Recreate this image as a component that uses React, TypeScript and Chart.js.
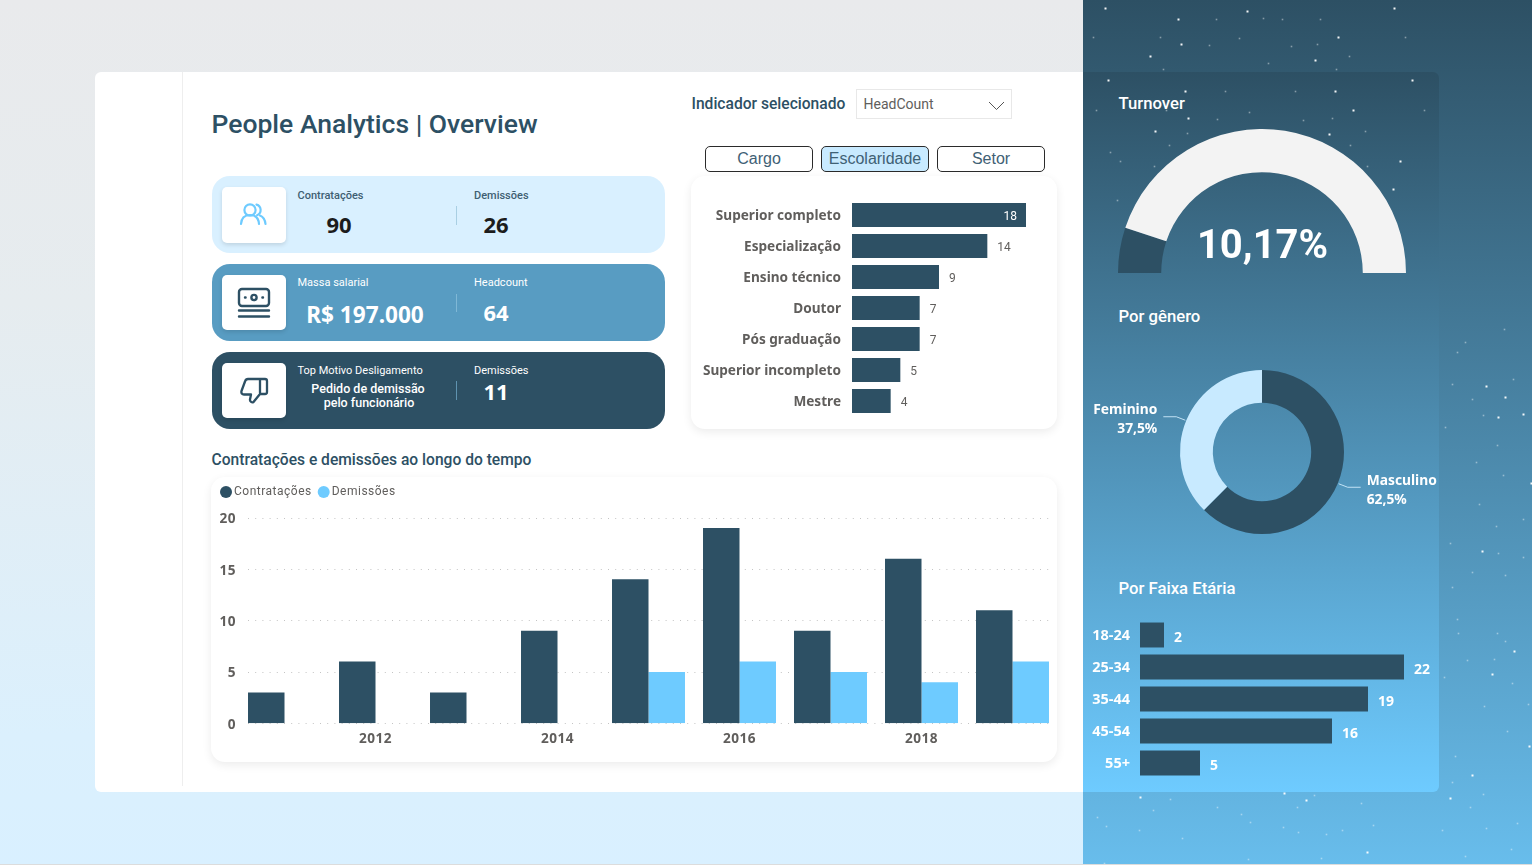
import React, { useEffect, useRef } from "react";
import { Chart, registerables } from "chart.js";

Chart.register(...registerables);

// ---------- data ----------
const eduLabels = ["Superior completo", "Especialização", "Ensino técnico", "Doutor", "Pós graduação", "Superior incompleto", "Mestre"];
const eduValues = [18, 14, 9, 7, 7, 5, 4];
const years = ["2011", "2012", "2013", "2014", "2015", "2016", "2017", "2018", "2019"];
const hires = [3, 6, 3, 9, 14, 19, 9, 16, 11];
const fires = [0, 0, 0, 0, 5, 6, 5, 4, 6];
const genderLabels = ["Masculino", "Feminino"];
const genderValues = [62.5, 37.5];
const genderText = ["62,5%", "37,5%"];
const turnoverValues = [10.17, 89.83];
const ageLabels = ["18-24", "25-34", "35-44", "45-54", "55+"];
const ageValues = [2, 22, 19, 16, 5];

const DARK = "#2d5064";
const LIGHT = "#6ecbff";
const GREY = "#605e5c";
const LABEL_FONT = '"Noto Sans"';

// decorative background stars: x, y, bright
const stars: number[][] = [
  [1105,8,1],[1178,19,1],[1247,11,1],[1394,8,1],[1338,37,1],[1181,44,1],[1150,56,1],[1315,60,1],[1108,80,1],[1185,91,1],[1093,37,0],[1160,37,0],[1209,45,0],[1239,38,0],[1291,46,0],[1317,44,0],[1263,18,0],[1216,19,0],[1282,19,0],[1320,19,0],[1405,37,0],[1349,56,0],[1268,63,0],[1163,69,0],[1336,69,0],
  [1412,80,1],[1225,91,0],[1295,91,0],[1335,91,1],[1096,110,0],[1166,110,0],[1188,118,1],[1249,112,0],[1217,119,0],[1353,110,1],[1424,110,0],[1303,120,0],[1332,118,0],[1155,131,1],[1187,133,0],[1365,131,0],[1169,145,0],[1110,152,0],[1120,161,0],[1154,166,0],[1400,161,1],[1367,166,0],[1393,189,1],[1117,200,0],[1329,134,1],[1350,145,0],
  [1504,329,0],[1457,352,0],[1465,342,0],[1452,384,0],[1486,386,1],[1513,379,0],[1472,399,0],[1505,397,1],[1483,415,0],[1498,417,1],[1523,414,1],[1445,427,0],[1497,445,0],[1476,462,0],[1503,475,0],[1531,483,1],[1479,504,0],[1496,526,0],[1523,519,0],[1450,543,0],[1482,551,1],[1498,553,0],[1523,557,0],[1505,575,0],[1472,572,0],[1452,587,0],[1457,619,0],[1458,633,0],[1497,633,0],[1505,641,0],[1514,651,1],[1494,659,0],[1467,660,0],[1492,674,1],[1444,677,0],[1512,683,0],[1484,706,0],[1528,704,0],[1507,731,0],[1529,746,1],[1455,756,0],[1472,775,1],[1452,782,0],[1450,798,1],[1483,794,0],[1470,807,0],[1442,830,0],[1517,823,0],[1486,828,0],[1511,849,0],[1465,856,0],
  [1140,797,1],[1170,799,0],[1153,810,0],[1217,807,0],[1284,793,1],[1306,800,1],[1314,795,0],[1297,807,0],[1361,803,0],[1241,814,0],[1250,822,0],[1283,827,0],[1298,832,0],[1326,834,0],[1342,830,0],[1373,825,0],[1097,817,0],[1106,826,0],[1139,830,0],[1182,838,0],[1367,852,1],[1321,858,0],[1248,859,0],[1104,863,0],
];

// ---------- chart configs ----------
const noScalePadding = (s: any) => { s.paddingTop = 0; s.paddingBottom = 0; };

// nudges the y-axis tick text down so the digits sit optically centred on their row
const tickNudge = (dy: number) => ({
  id: "tickNudge",
  beforeDraw(chart: any) {
    const items = chart.scales.y.getLabelItems();
    if (items.__nudged) return;
    items.forEach((it: any) => { it.options.translation[1] += dy; });
    items.__nudged = true;
  },
});

const valueLabels = (font: string, color: string, gap: number, dy: number, insideFrom?: number) => ({
  id: "valueLabels",
  afterDatasetsDraw(chart: any) {
    const { ctx } = chart;
    const vals = chart.data.datasets[0].data;
    ctx.save();
    ctx.font = font;
    ctx.textBaseline = "middle";
    chart.getDatasetMeta(0).data.forEach((bar: any, i: number) => {
      const inside = insideFrom !== undefined && vals[i] >= insideFrom;
      ctx.fillStyle = inside ? "#ffffff" : color;
      ctx.textAlign = inside ? "right" : "left";
      ctx.fillText(String(vals[i]), inside ? bar.x - 9 : bar.x + gap, bar.y + dy);
    });
    ctx.restore();
  },
});

const eduConfig: any = {
  type: "bar",
  data: { labels: eduLabels, datasets: [{ data: eduValues, backgroundColor: DARK, categoryPercentage: 0.775, barPercentage: 1 }] },
  options: {
    indexAxis: "y", animation: false, responsive: false,
    layout: { autoPadding: false, padding: { top: 21.5, bottom: 11.5, right: 31, left: 0 } },
    plugins: { legend: { display: false }, tooltip: { enabled: false } },
    scales: {
      x: { display: false, min: 0, max: 18 },
      y: {
        afterFit: (s: any) => { s.width = 161; noScalePadding(s); },
        grid: { display: false, drawTicks: false }, border: { display: false },
        ticks: { color: GREY, padding: 11, font: { family: LABEL_FONT, weight: "700", size: 13.6 } },
      },
    },
  },
  plugins: [valueLabels("12px Roboto", GREY, 10, 2, 18), tickNudge(1)],
};

const timeGrid = {
  id: "timeGrid",
  beforeDatasetsDraw(chart: any) {
    const { ctx, chartArea, scales } = chart;
    ctx.save();
    ctx.strokeStyle = "#c4c4c4";
    ctx.lineWidth = 1;
    ctx.setLineDash([1, 6.2]);
    scales.y.ticks.forEach((t: any) => {
      const y = Math.round(scales.y.getPixelForValue(t.value)) + 0.5;
      ctx.beginPath();
      ctx.moveTo(chartArea.left + 9, y);
      ctx.lineTo(chartArea.right - 9, y);
      ctx.stroke();
    });
    ctx.restore();
  },
};
const legendSpace = {
  id: "legendSpace",
  beforeInit(chart: any) {
    const fit = chart.legend.fit;
    chart.legend.fit = function () { fit.call(this); this.height += 9.6; };
  },
  beforeLayout(chart: any) { chart.ctx.letterSpacing = "0.5px"; },
  beforeDraw(chart: any) { chart.ctx.letterSpacing = "0.5px"; },
  afterDraw(chart: any) { chart.ctx.letterSpacing = "0px"; },
};
const timeConfig: any = {
  type: "bar",
  data: {
    labels: years,
    datasets: [
      { label: "Contratações", data: hires, backgroundColor: DARK, categoryPercentage: 0.802, barPercentage: 1 },
      { label: "Demissões", data: fires, backgroundColor: LIGHT, categoryPercentage: 0.802, barPercentage: 1 },
    ],
  },
  options: {
    animation: false, responsive: false,
    layout: { autoPadding: false, padding: { left: 3, top: 6, right: 0, bottom: 0 } },
    plugins: {
      tooltip: { enabled: false },
      legend: {
        position: "top", align: "start",
        labels: { usePointStyle: true, pointStyle: "circle", boxWidth: 4, boxHeight: 8.5, padding: 10, color: GREY, font: { family: "Roboto", size: 12 } },
      },
    },
    scales: {
      x: {
        afterFit: (s: any) => { s.height = 26.7; },
        grid: { display: false, drawTicks: false }, border: { display: false },
        ticks: {
          autoSkip: false, maxRotation: 0, padding: 8, color: GREY,
          font: { family: LABEL_FONT, weight: "700", size: 13.6 },
          callback(this: any, v: any, i: number) { return i % 2 === 1 ? this.getLabelForValue(v) : ""; },
        },
      },
      y: {
        min: 0, max: 20,
        afterFit: (s: any) => { s.width = 25; noScalePadding(s); },
        grid: { display: false, drawTicks: false }, border: { display: false },
        ticks: { stepSize: 5, padding: 3, color: GREY, font: { family: LABEL_FONT, weight: "700", size: 13.6 } },
      },
    },
  },
  plugins: [timeGrid, legendSpace, tickNudge(1.7)],
};

const gaugeConfig: any = {
  type: "doughnut",
  data: { labels: ["Turnover", "Restante"], datasets: [{ data: turnoverValues, backgroundColor: [DARK, "#f3f3f3"], borderWidth: 0 }] },
  options: {
    animation: false, responsive: false, rotation: -90, circumference: 180, cutout: "70%",
    layout: { autoPadding: false, padding: 0 },
    plugins: { legend: { display: false }, tooltip: { enabled: false } },
  },
};

const genderLeaders = {
  id: "genderLeaders",
  afterDatasetsDraw(chart: any) {
    const { ctx } = chart;
    chart.getDatasetMeta(0).data.forEach((arc: any, i: number) => {
      const mid = (arc.startAngle + arc.endAngle) / 2;
      const px = arc.x + Math.cos(mid) * (arc.outerRadius + 1);
      const py = arc.y + Math.sin(mid) * (arc.outerRadius + 1);
      const right = Math.cos(mid) > 0;
      const s = right ? 1 : -1;
      ctx.save();
      ctx.strokeStyle = "rgba(214,240,255,0.85)";
      ctx.lineWidth = 1;
      ctx.beginPath();
      ctx.moveTo(px, py);
      ctx.lineTo(px + s * 9, py + (right ? 3.5 : -3.5));
      ctx.lineTo(px + s * 22, py + (right ? 3.5 : -3.5));
      ctx.stroke();
      ctx.fillStyle = "#ffffff";
      ctx.font = `700 13.8px ${LABEL_FONT}`;
      ctx.textBaseline = "middle";
      ctx.textAlign = right ? "left" : "right";
      const tx = px + s * 28;
      const base = right ? py - 3 : py - 10;
      ctx.fillText(chart.data.labels[i], tx, base);
      ctx.fillText(genderText[i], tx, base + 19);
      ctx.restore();
    });
  },
};
const genderConfig: any = {
  type: "doughnut",
  data: { labels: genderLabels, datasets: [{ data: genderValues, backgroundColor: [DARK, "#c8eaff"], borderWidth: 0 }] },
  options: {
    animation: false, responsive: false, cutout: "60%",
    layout: { autoPadding: false, padding: { top: 5, bottom: 5, left: 88, right: 88 } },
    plugins: { legend: { display: false }, tooltip: { enabled: false } },
  },
  plugins: [genderLeaders],
};

const ageConfig: any = {
  type: "bar",
  data: { labels: ageLabels, datasets: [{ data: ageValues, backgroundColor: DARK, categoryPercentage: 0.78, barPercentage: 1 }] },
  options: {
    indexAxis: "y", animation: false, responsive: false,
    layout: { autoPadding: false, padding: { top: 9, bottom: 11, right: 35, left: 0 } },
    plugins: { legend: { display: false }, tooltip: { enabled: false } },
    scales: {
      x: { display: false, min: 0, max: 22 },
      y: {
        afterFit: (s: any) => { s.width = 55; noScalePadding(s); },
        grid: { display: false, drawTicks: false }, border: { display: false },
        ticks: { color: "#ffffff", padding: 10, font: { family: LABEL_FONT, weight: "700", size: 14.5 } },
      },
    },
  },
  plugins: [valueLabels(`700 14px ${LABEL_FONT}`, "#ffffff", 10, 3), tickNudge(1.3)],
};

// ---------- helpers ----------
function ChartBox({ x, y, w, h, config }: { x: number; y: number; w: number; h: number; config: any }) {
  const ref = useRef<HTMLCanvasElement>(null);
  useEffect(() => {
    const chart = new Chart(ref.current as HTMLCanvasElement, config);
    return () => chart.destroy();
  }, [config]);
  return <canvas ref={ref} width={w} height={h} style={{ position: "absolute", left: x, top: y, width: w, height: h, display: "block" }} />;
}

function T({ x, y, children, size, weight = 400, color = DARK, font = "Roboto", align = "left" }: any) {
  const tx = align === "center" ? "-50%" : align === "right" ? "-100%" : "0";
  return (
    <div style={{ position: "absolute", left: x, top: y, transform: `translate(${tx},-50%)`, whiteSpace: "nowrap", fontFamily: font, fontSize: size, fontWeight: weight, color, lineHeight: 1 }}>
      {children}
    </div>
  );
}

function Box({ x, y, w, h, style }: any) {
  return <div style={{ position: "absolute", left: x, top: y, width: w, height: h, boxSizing: "border-box", ...style }} />;
}

function Tile({ y, h, children }: any) {
  return (
    <div style={{ position: "absolute", left: 222, top: y, width: 64, height: h, background: "#fff", borderRadius: 5, boxShadow: "0 2px 4px rgba(0,0,0,0.12)" }}>
      <svg width={64} height={h} viewBox={`0 0 64 ${h}`} fill="none">{children}</svg>
    </div>
  );
}

function Button({ x, w, label, active }: any) {
  return (
    <div style={{ position: "absolute", left: x, top: 146, width: w, height: 26, boxSizing: "border-box", border: "1.5px solid #2b2b2b", borderRadius: 5, background: active ? "#c8eaff" : "#fff", color: "#3f6175", fontFamily: '"Liberation Sans"', fontSize: 16, lineHeight: "23px", textAlign: "center" }}>
      {label}
    </div>
  );
}

const starShadow = stars.map(([x, y, b]) => `${x}px ${y}px 0 ${b ? 0.5 : 0.3}px rgba(255,255,255,${b ? 0.95 : 0.42})`).join(",");

export default function App() {
  return (
    <div style={{ position: "fixed", left: 0, top: 0, width: 1532, height: 865, overflow: "hidden", background: "linear-gradient(180deg,#e9eaec 0%,#e6ecef 35%,#dbf0fd 85%,#d9f0ff 100%)" }}>
      <Box x={95} y={72} w={1000} h={720} style={{ background: "#fff", borderRadius: "6px 0 0 6px" }} />
      <Box x={182} y={72} w={1} h={714} style={{ background: "#eeeeee" }} />

      {/* right panel */}
      <Box x={1083} y={0} w={449} h={865} style={{ background: "linear-gradient(180deg,#2d5064 0%,#68bdec 100%)" }} />
      <Box x={1083} y={72} w={356} h={720} style={{ background: "linear-gradient(180deg,#2d5064 0%,#6ecbff 100%)", borderRadius: "0 6px 6px 0" }} />
      <div style={{ position: "absolute", left: 0, top: 0, width: 1, height: 1, boxShadow: starShadow }} />
      <Box x={0} y={864} w={1532} h={1} style={{ background: "#dcdcdc" }} />

      {/* header */}
      <T x={211.5} y={124} size={26.5} weight={500}>People Analytics | Overview</T>
      <T x={691.5} y={104.5} size={15.6} weight={500}>Indicador selecionado</T>
      <Box x={856} y={89} w={156} h={30} style={{ border: "1px solid #e8e8e8", background: "#fff" }} />
      <T x={863.5} y={104} size={14} color={GREY}>HeadCount</T>
      <svg style={{ position: "absolute", left: 986, top: 98 }} width={20} height={14} fill="none">
        <polyline points="3,4 10.5,11.5 18,4" stroke="#555" strokeWidth={1} />
      </svg>
      <Button x={705} w={108} label="Cargo" />
      <Button x={821} w={108} label="Escolaridade" active />
      <Button x={937} w={108} label="Setor" />

      {/* KPI cards */}
      <Box x={211.5} y={176} w={453.5} h={77} style={{ background: "#d9f0ff", borderRadius: 18 }} />
      <Box x={211.5} y={264} w={453.5} h={77} style={{ background: "#589cc2", borderRadius: 18 }} />
      <Box x={211.5} y={352} w={453.5} h={76.5} style={{ background: DARK, borderRadius: 18 }} />

      <Tile y={187} h={56}>
        <g stroke={LIGHT} strokeWidth={2.2} strokeLinecap="round">
          <circle cx={28} cy={23} r={5.6} />
          <path d="M19 37c.4-6 4-9 9-9s8.6 3 9 9" />
          <path d="M34.5 17.6a5.6 5.6 0 0 1 .6 10.6" />
          <path d="M38 28.6c3 1.2 5 4 5.5 8.4" />
        </g>
      </Tile>
      <Tile y={275} h={55}>
        <g stroke={DARK} strokeWidth={2.4} strokeLinecap="round">
          <rect x={17} y={14} width={30} height={17} rx={3} />
          <circle cx={32} cy={22.5} r={2.6} />
          <path d="M23 22.5h.6M40.4 22.5h.6" />
          <path d="M17 35.5h30M17 41.5h30" />
        </g>
      </Tile>
      <Tile y={363} h={54.5}>
        <path d="M38 16H26c-1.500 0-2.500 1-3 2.500L19.500 28c-.5 2 .5 3.500 2.500 3.500h7l-1 5c-.3 2 2 3.500 3.500 2.500L38 31V16zM38 16h5c1 0 2 1 2 2v11c0 1-1 2-2 2h-5" stroke={DARK} strokeWidth={2.3} strokeLinejoin="round" />
      </Tile>

      <T x={297.5} y={194.5} size={11} weight={500} color="#3f5f72">Contratações</T>
      <T x={474} y={194.5} size={11} weight={500} color="#3f5f72">Demissões</T>
      <T x={339} y={224} size={22} weight={700} font={LABEL_FONT} color="#1c1c1c" align="center">90</T>
      <T x={496} y={224} size={22} weight={700} font={LABEL_FONT} color="#1c1c1c" align="center">26</T>
      <Box x={455.5} y={206} w={1} h={19} style={{ background: "#a9cfe3" }} />

      <T x={297.5} y={282} size={11} color="#fff">Massa salarial</T>
      <T x={474} y={282} size={11} color="#fff">Headcount</T>
      <T x={365} y={315} size={22.6} weight={700} font={LABEL_FONT} color="#fff" align="center">R$ 197.000</T>
      <T x={496} y={312} size={22} weight={700} font={LABEL_FONT} color="#fff" align="center">64</T>
      <Box x={455.5} y={294} w={1} h={18} style={{ background: "#7fb8d6" }} />

      <T x={297.5} y={369.5} size={11} color="#fff">Top Motivo Desligamento</T>
      <T x={474} y={369.5} size={11} color="#fff">Demissões</T>
      <T x={368} y={389} size={12.5} weight={500} color="#fff" align="center">Pedido de demissão</T>
      <T x={369} y={403} size={12.5} weight={500} color="#fff" align="center">pelo funcionário</T>
      <T x={496} y={390.5} size={22} weight={700} font={LABEL_FONT} color="#fff" align="center">11</T>
      <Box x={455.5} y={381} w={1} h={19} style={{ background: "#5f93b0" }} />

      {/* chart cards */}
      <Box x={691} y={176} w={366} h={253} style={{ background: "#fff", borderRadius: 14, boxShadow: "0 3px 10px rgba(0,0,0,0.08)" }} />
      <ChartBox x={691} y={178} w={366} h={250} config={eduConfig} />

      <T x={211.5} y={461} size={15.6} weight={500}>Contratações e demissões ao longo do tempo</T>
      <Box x={211} y={477} w={846} h={285} style={{ background: "#fff", borderRadius: 14, boxShadow: "0 3px 10px rgba(0,0,0,0.08)" }} />
      <ChartBox x={211} y={470} w={847} h={280} config={timeConfig} />

      {/* right side */}
      <T x={1118.5} y={104} size={16.7} weight={500} color="#fff">Turnover</T>
      <ChartBox x={1118} y={129} w={288} h={144} config={gaugeConfig} />
      <T x={1262.5} y={245} size={40} weight={700} color="#fff" align="center">10,17%</T>

      <T x={1118.5} y={316.5} size={16.7} weight={500} color="#fff">Por gênero</T>
      <ChartBox x={1086} y={365} w={352} h={174} config={genderConfig} />

      <T x={1118.5} y={589} size={16.7} weight={500} color="#fff">Por Faixa Etária</T>
      <ChartBox x={1085} y={610} w={354} h={180} config={ageConfig} />
    </div>
  );
}
